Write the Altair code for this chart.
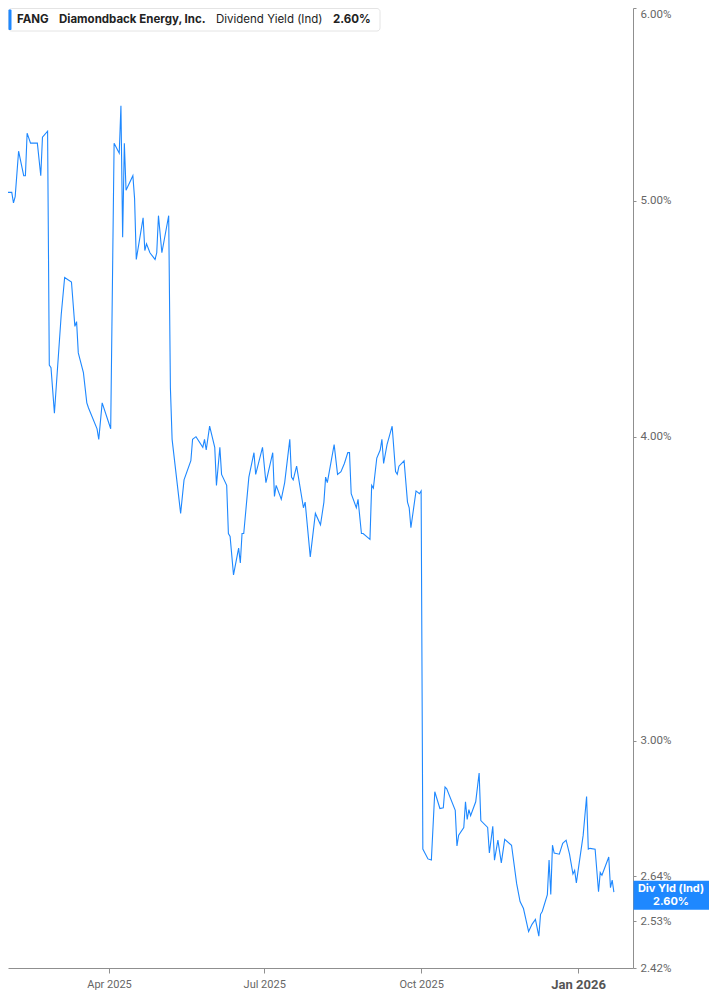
import altair as alt
import pandas as pd

# ---- data ----
dates = [
    "2025-01-27", "2025-01-28", "2025-01-29", "2025-01-30", "2025-01-31", "2025-02-03", "2025-02-04",
    "2025-02-05", "2025-02-07", "2025-02-10", "2025-02-11", "2025-02-12", "2025-02-14", "2025-02-18",
    "2025-02-20", "2025-02-21", "2025-02-24", "2025-02-25", "2025-02-26", "2025-02-28", "2025-03-04",
    "2025-03-06", "2025-03-10", "2025-03-12", "2025-03-13", "2025-03-14", "2025-03-17", "2025-03-19",
    "2025-03-20", "2025-03-25", "2025-03-26", "2025-03-28", "2025-04-02", "2025-04-04", "2025-04-07",
    "2025-04-08", "2025-04-09", "2025-04-10", "2025-04-11", "2025-04-15", "2025-04-16", "2025-04-17",
    "2025-04-21", "2025-04-22", "2025-04-23", "2025-04-25", "2025-04-28", "2025-04-29", "2025-04-30",
    "2025-05-02", "2025-05-06", "2025-05-07", "2025-05-08", "2025-05-13", "2025-05-15", "2025-05-19",
    "2025-05-20", "2025-05-22", "2025-05-26", "2025-05-27", "2025-05-28", "2025-05-30", "2025-06-02",
    "2025-06-03", "2025-06-05", "2025-06-06", "2025-06-09", "2025-06-10", "2025-06-11", "2025-06-13",
    "2025-06-16", "2025-06-17", "2025-06-18", "2025-06-19", "2025-06-22", "2025-06-25", "2025-06-26",
    "2025-06-30", "2025-07-02", "2025-07-06", "2025-07-07", "2025-07-08", "2025-07-11", "2025-07-13",
    "2025-07-16", "2025-07-17", "2025-07-18", "2025-07-20", "2025-07-24", "2025-07-25", "2025-07-28",
    "2025-07-31", "2025-08-03", "2025-08-05", "2025-08-06", "2025-08-07", "2025-08-11", "2025-08-13",
    "2025-08-15", "2025-08-17", "2025-08-19", "2025-08-20", "2025-08-21", "2025-08-24", "2025-08-25",
    "2025-08-27", "2025-08-28", "2025-09-01", "2025-09-02", "2025-09-03", "2025-09-05", "2025-09-07",
    "2025-09-08", "2025-09-09", "2025-09-11", "2025-09-14", "2025-09-16", "2025-09-17", "2025-09-18",
    "2025-09-21", "2025-09-23", "2025-09-24", "2025-09-25", "2025-09-28", "2025-09-30", "2025-10-01",
    "2025-10-02", "2025-10-05", "2025-10-07", "2025-10-09", "2025-10-12", "2025-10-14", "2025-10-15",
    "2025-10-16", "2025-10-21", "2025-10-22", "2025-10-23", "2025-10-26", "2025-10-27", "2025-10-28",
    "2025-10-29", "2025-10-30", "2025-11-02", "2025-11-04", "2025-11-05", "2025-11-09", "2025-11-10",
    "2025-11-12", "2025-11-13", "2025-11-15", "2025-11-17", "2025-11-19", "2025-11-23", "2025-11-26",
    "2025-11-28", "2025-11-30", "2025-12-03", "2025-12-05", "2025-12-07", "2025-12-09", "2025-12-10",
    "2025-12-11", "2025-12-14", "2025-12-15", "2025-12-16", "2025-12-17", "2025-12-18", "2025-12-21",
    "2025-12-23", "2025-12-25", "2025-12-27", "2025-12-29", "2025-12-30", "2025-12-31", "2026-01-04",
    "2026-01-06", "2026-01-07", "2026-01-08", "2026-01-11", "2026-01-13", "2026-01-14", "2026-01-15",
    "2026-01-19", "2026-01-20", "2026-01-21", "2026-01-22",
]

yields = [
    4.83, 4.90, 4.86, 4.86, 5.04, 5.04, 4.99,
    5.02, 5.24, 5.12, 5.12, 5.33, 5.28, 5.28,
    5.12, 5.31, 5.34, 4.28, 4.27, 4.09, 4.49,
    4.65, 4.63, 4.44, 4.46, 4.33, 4.25, 4.13,
    4.11, 4.03, 3.99, 4.13, 4.03, 5.28, 5.23,
    5.47, 4.83, 5.28, 5.05, 5.12, 5.01, 4.73,
    4.92, 4.77, 4.80, 4.76, 4.73, 4.76, 4.93,
    4.76, 4.93, 4.19, 3.99, 3.72, 3.84, 3.91,
    3.99, 4.00, 3.96, 3.99, 3.95, 4.04, 3.96,
    3.82, 3.96, 3.86, 3.82, 3.65, 3.64, 3.51,
    3.60, 3.55, 3.65, 3.65, 3.85, 3.94, 3.86,
    3.96, 3.83, 3.94, 3.78, 3.82, 3.77, 3.83,
    3.99, 3.85, 3.84, 3.89, 3.74, 3.76, 3.57,
    3.72, 3.68, 3.76, 3.85, 3.83, 3.97, 3.86,
    3.87, 3.90, 3.94, 3.94, 3.79, 3.74, 3.77,
    3.65, 3.65, 3.63, 3.82, 3.81, 3.92, 3.95,
    3.99, 3.90, 3.97, 4.04, 3.87, 3.86, 3.89,
    3.91, 3.76, 3.74, 3.67, 3.80, 3.79, 3.80,
    2.708, 2.683, 2.680, 2.859, 2.814, 2.816, 2.872,
    2.867, 2.809, 2.716, 2.744, 2.764, 2.832, 2.785,
    2.811, 2.795, 2.832, 2.910, 2.782, 2.764, 2.698,
    2.767, 2.680, 2.731, 2.673, 2.733, 2.718, 2.621,
    2.577, 2.560, 2.505, 2.522, 2.534, 2.494, 2.546,
    2.553, 2.594, 2.680, 2.594, 2.718, 2.698, 2.695,
    2.723, 2.731, 2.695, 2.645, 2.654, 2.623, 2.744,
    2.846, 2.708, 2.710, 2.708, 2.601, 2.649, 2.642,
    2.688, 2.611, 2.630, 2.60,
]

y_ticks = [2.42, 2.53, 2.64, 3.0, 4.0, 5.0, 6.0]
y_domain = [2.42, 6.0]
x_ticks = [
    alt.DateTime(year=2025, month=4, date=1, utc=True),
    alt.DateTime(year=2025, month=7, date=1, utc=True),
    alt.DateTime(year=2025, month=10, date=1, utc=True),
    alt.DateTime(year=2026, month=1, date=1, utc=True),
]
x_domain = [
    alt.DateTime(year=2025, month=1, date=31, hours=19, utc=True),
    alt.DateTime(year=2026, month=2, date=2, hours=5, utc=True),
]

ticker = "FANG"
company = "Diamondback Energy, Inc."
metric = "Dividend Yield (Ind)"
current_label = "2.60%"
badge_label = "Div Yld (Ind)"

BLUE = "#1E88FF"
AXIS_GRAY = "#8f8f8f"

df = pd.DataFrame({"date": dates, "yield": yields})
one = pd.DataFrame({"k": [0]})
last = pd.DataFrame({"yield": [yields[-1]]})

W, H = 625, 960
BADGE_W = 76

line = alt.Chart(df).mark_line(color=BLUE, strokeWidth=1.1, clip=True).encode(
    x=alt.X(
        "date:T",
        title=None,
        scale=alt.Scale(type="utc", domain=x_domain, nice=False),
        axis=alt.Axis(
            values=x_ticks,
            labelExpr="utcFormat(datum.value, '%b %Y')",
            grid=False,
            domainColor=AXIS_GRAY,
            tickColor=AXIS_GRAY,
            tickSize=5,
            labelPadding=5,
            labelFont="Roboto",
            labelFontSize={"condition": {"test": "utcmonth(datum.value) == 0", "value": 13}, "value": 11},
            labelFontWeight={"condition": {"test": "utcmonth(datum.value) == 0", "value": "bold"}, "value": "normal"},
            labelColor={"condition": {"test": "utcmonth(datum.value) == 0", "value": "#555555"}, "value": "#666666"},
        ),
    ),
    y=alt.Y(
        "yield:Q",
        title=None,
        scale=alt.Scale(type="log", domain=y_domain, nice=False, zero=False),
        axis=alt.Axis(
            orient="right",
            values=y_ticks,
            labelExpr="format(datum.value, '.2f') + '%'",
            labelBaseline={"condition": {"test": "datum.value > 5.9", "value": "top"}, "value": "middle"},
            grid=False,
            domainColor=AXIS_GRAY,
            tickColor=AXIS_GRAY,
            tickSize=3,
            labelPadding=4,
            labelFont="Roboto",
            labelFontSize=11.5,
            labelColor="#666666",
        ),
    ),
)

# header box
hdr_box = alt.Chart(one).mark_rect(fill="white", stroke="#e4e4e4", strokeWidth=1, cornerRadius=3).encode(
    x=alt.value(0.5), x2=alt.value(372), y=alt.value(0.5), y2=alt.value(23)
)
hdr_bar = alt.Chart(one).mark_rect(fill=BLUE, cornerRadius=1).encode(
    x=alt.value(0.5), x2=alt.value(3.5), y=alt.value(1.5), y2=alt.value(22)
)


def hdr_text(txt, xpos, weight):
    return alt.Chart(one).mark_text(
        align="left", baseline="middle", font="Inter", fontSize=11.5, fontWeight=weight, color="#222222"
    ).encode(x=alt.value(xpos), y=alt.value(11.5), text=alt.value(txt))


t1 = hdr_text(ticker, 9, "bold")
t2 = hdr_text(company, 51, "bold")
t3 = hdr_text(metric, 208, "normal")
t4 = hdr_text(current_label, 325, "bold")

# current value badge on the right axis
badge = alt.Chart(last).mark_rule(color=BLUE, strokeWidth=29, yOffset=3).encode(
    x=alt.value(W + 0.5), x2=alt.value(W + BADGE_W), y="yield:Q"
)


def badge_line(txt, offset):
    return alt.Chart(last).mark_text(
        align="center", baseline="middle", font="Inter", fontSize=11, fontWeight="bold", color="white",
        dy=offset,
    ).encode(x=alt.value(W + BADGE_W / 2), y="yield:Q", text=alt.value(txt))


badge_t1 = badge_line(badge_label, -3.5)
badge_t2 = badge_line(current_label, 9.5)

chart = alt.layer(line, hdr_box, hdr_bar, t1, t2, t3, t4, badge, badge_t1, badge_t2).properties(
    width=W,
    height=H,
    autosize=alt.AutoSizeParams(type="none"),
    padding={"left": 0, "top": 0, "right": BADGE_W, "bottom": 24},
    background="white",
).configure_view(stroke=None)

chart.save("out.html", embed_options={"renderer": "svg", "actions": False})
